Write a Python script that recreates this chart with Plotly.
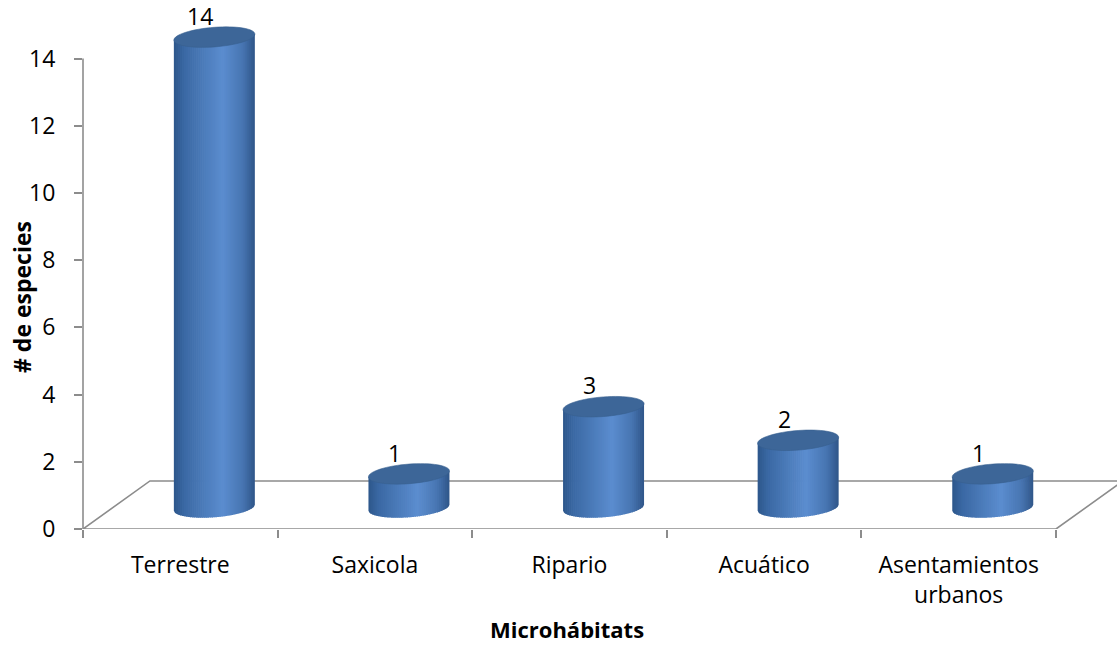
import math
import plotly.graph_objects as go

# Species count per microhabitat
categories = ["Terrestre", "Saxicola", "Ripario", "Acuático", "Asentamientos<br>urbanos"]
species = [14, 1, 3, 2, 1]
y_ticks = [0, 2, 4, 6, 8, 10, 12, 14]

W, H = 1117, 646
ML, MB = 83, 117
PX_PER_CAT = 194.6
PX_PER_UNIT = 33.6

x_max = -0.5 + (W - ML) / PX_PER_CAT
y_max = (H - MB) / PX_PER_UNIT

# 3-D floor depth (in data units) and cylinder geometry
DEPTH_X, DEPTH_Y = 0.344, 1.43
MID_X, BASE_Y = 0.175, 0.64
RX = 40.5 / PX_PER_CAT
RY = 9.8 / PX_PER_UNIT
SHEAR = 0.074 * PX_PER_CAT / PX_PER_UNIT

GRID = "#8c8c8c"
CAP = "#3d6698"
FONT = "'Open Sans', Lato, sans-serif"
FS = 23

stops = [(0.0, (0x2d, 0x56, 0x8a)), (0.12, (0x3a, 0x68, 0xa3)), (0.6, (0x5b, 0x8d, 0xcf)),
         (0.85, (0x47, 0x75, 0xb2)), (1.0, (0x2f, 0x55, 0x88))]


def grad(u):
    for (u0, c0), (u1, c1) in zip(stops, stops[1:]):
        if u <= u1:
            f = (u - u0) / (u1 - u0) if u1 > u0 else 0
            return "rgb(%d,%d,%d)" % tuple(round(a + (b - a) * f) for a, b in zip(c0, c1))
    return "rgb(%d,%d,%d)" % stops[-1][1]


shapes = []

# floor of the 3-D plot
shapes.append(dict(
    type="path", xref="x", yref="y", layer="below",
    path="M -0.5,0 L 4.5,0 L %f,%f L %f,%f Z" % (4.5 + DEPTH_X, DEPTH_Y, -0.5 + DEPTH_X, DEPTH_Y),
    line=dict(color=GRID, width=1.6), fillcolor="rgba(0,0,0,0)"))

# value axis line
shapes.append(dict(type="line", xref="paper", yref="y", x0=0, x1=0, y0=0, y1=y_ticks[-1],
                   line=dict(color=GRID, width=1.6)))

N = 40
annotations = []
for i, v in enumerate(species):
    cx = i + MID_X
    top = BASE_Y + v

    def yb(x):
        t = (x - cx) / RX
        return BASE_Y + SHEAR * (x - cx) - RY * math.sqrt(max(0.0, 1 - t * t))

    def yt(x):
        return top + SHEAR * (x - cx)

    w = 2 * RX / N
    for j in range(N):
        xa = cx - RX + j * w
        xb = min(xa + w * 1.35, cx + RX)
        pts = []
        steps = 4
        for s in range(steps + 1):
            x = xa + (xb - xa) * s / steps
            pts.append((x, yb(x)))
        pts.append((xb, yt(xb)))
        pts.append((xa, yt(xa)))
        path = "M " + " L ".join("%f,%f" % p for p in pts) + " Z"
        col = grad((j + 0.5) / N)
        shapes.append(dict(type="path", xref="x", yref="y", path=path,
                           fillcolor=col, line=dict(width=0)))

    # top cap
    cap = []
    for s in range(64):
        t = 2 * math.pi * s / 64
        dx = RX * math.cos(t)
        cap.append((cx + dx, top + SHEAR * dx + RY * math.sin(t)))
    shapes.append(dict(type="path", xref="x", yref="y",
                       path="M " + " L ".join("%f,%f" % p for p in cap) + " Z",
                       fillcolor=CAP, line=dict(color="#38608f", width=0.6)))

    annotations.append(dict(x=cx - 0.072, y=top + RY * 1.05, xref="x", yref="y",
                            text=str(v), showarrow=False, xanchor="center", yanchor="bottom",
                            yshift=-7, font=dict(size=FS, color="black")))

annotations.append(dict(x=(22 - ML) / (W - ML), y=(H - MB - 297) / (H - MB),
                        xref="paper", yref="paper", text="<b># de especies</b>", textangle=-90,
                        xanchor="center", yanchor="middle", borderpad=0,
                        showarrow=False, font=dict(size=FS, color="black")))
annotations.append(dict(x=(567 - ML) / (W - ML), y=(H - MB - 629) / (H - MB),
                        xref="paper", yref="paper", text="<b>Microhábitats</b>",
                        xanchor="center", yanchor="middle", borderpad=0,
                        showarrow=False, font=dict(size=FS - 1, color="black")))

fig = go.Figure()
fig.add_trace(go.Scatter(x=[None], y=[None], showlegend=False, hoverinfo="skip"))

fig.update_layout(
    width=W, height=H,
    margin=dict(l=ML, r=0, t=0, b=MB),
    paper_bgcolor="white", plot_bgcolor="white",
    font=dict(family=FONT, size=FS, color="black"),
    showlegend=False,
    shapes=shapes,
    annotations=annotations,
    xaxis=dict(range=[-0.5, x_max], tickmode="array", tickvals=list(range(len(categories))),
               ticktext=categories, ticks="", showgrid=False, zeroline=False, showline=False,
               ticklabelstandoff=20, tickfont=dict(family=FONT, size=FS, color="black"),
               minor=dict(tickmode="array", tickvals=[k - 0.5 for k in range(len(categories) + 1)],
                          ticks="outside", ticklen=8, tickcolor=GRID, tickwidth=1.6, showgrid=False)),
    yaxis=dict(range=[0, y_max], tickmode="array", tickvals=y_ticks, ticks="outside",
               ticklen=8, tickcolor=GRID, tickwidth=1.6, showgrid=False, zeroline=False,
               showline=False, ticklabelstandoff=14,
               tickfont=dict(family=FONT, size=FS, color="black")),
)

fig.write_html("out.html")
